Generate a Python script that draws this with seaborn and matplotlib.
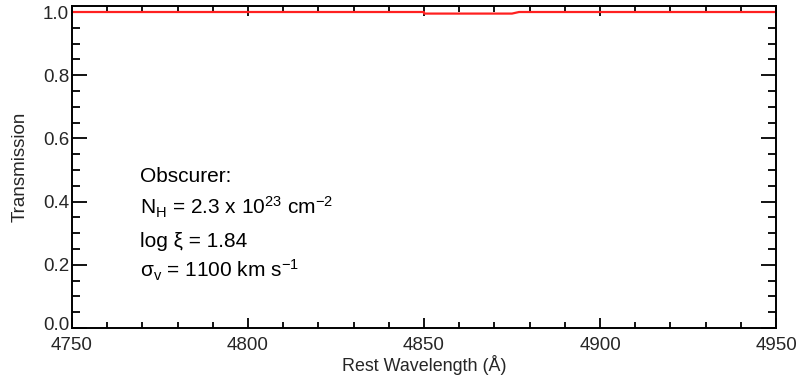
import matplotlib
matplotlib.use("Agg")
import matplotlib.pyplot as plt
import matplotlib.transforms as mtransforms
import seaborn as sns
import pandas as pd
from matplotlib.ticker import MultipleLocator

# Data
wavelength = [4750, 4850, 4850, 4875, 4877, 4950]
transmission = [1.0, 1.0, 0.995, 0.995, 1.0, 1.0]

x_ticks = [4750, 4800, 4850, 4900, 4950]
y_ticks = [0.0, 0.2, 0.4, 0.6, 0.8, 1.0]

annotation_lines = [
    "Obscurer:",
    r"N$_\mathregular{H}$ = 2.3 x 10$^\mathregular{23}$ cm$^\mathregular{-2}$",
    "log ξ = 1.84",
    r"σ$_\mathregular{v}$ = 1100 km s$^\mathregular{-1}$",
]

sns.set_theme(style="ticks")
plt.rcParams["font.family"] = ["Liberation Sans", "DejaVu Sans"]
plt.rcParams["mathtext.fontset"] = "custom"
plt.rcParams["mathtext.rm"] = "Liberation Sans"
plt.rcParams["mathtext.it"] = "Liberation Sans:italic"
plt.rcParams["mathtext.bf"] = "Liberation Sans:bold"

df = pd.DataFrame({"wavelength": wavelength, "transmission": transmission})

fig = plt.figure(figsize=(7.97, 3.78), dpi=100)
ax = fig.add_axes([72 / 797, 1 - 328 / 378, 704 / 797, 322 / 378])

sns.lineplot(data=df, x="wavelength", y="transmission", ax=ax, sort=False,
             estimator=None, color="#ff2020", linewidth=1.6)

ax.set_xlim(4750, 4950)
ax.set_ylim(0.0, 1.019)
ax.set_xticks(x_ticks)
ax.set_xticklabels([str(t) for t in x_ticks])
ax.set_yticks(y_ticks)
ax.set_yticklabels([f"{t:.1f}" for t in y_ticks])
ax.xaxis.set_minor_locator(MultipleLocator(10))
ax.yaxis.set_minor_locator(MultipleLocator(0.05))

ax.tick_params(which="both", direction="in", top=True, right=True,
               color="black", width=1.3)
ax.tick_params(axis="x", which="major", length=7.2, labelsize=13.5, pad=6.5)
ax.tick_params(axis="x", which="minor", length=4.3)
ax.tick_params(axis="y", which="major", length=10.5, labelsize=13.5, pad=2)
ax.tick_params(axis="y", which="minor", length=5.8)
for s in ax.spines.values():
    s.set_color("black")
    s.set_linewidth(1.4)

# lift the bottom y label slightly, as in the reference
lbl0 = ax.get_yticklabels()[0]
lbl0.set_transform(lbl0.get_transform() +
                   mtransforms.ScaledTranslation(0, 4 / 100, fig.dpi_scale_trans))

ax.set_xlabel("Rest Wavelength (Å)", fontsize=12.9, labelpad=1)
ax.set_ylabel("Transmission", fontsize=13.5, labelpad=10)

ys = [0.453, 0.351, 0.252, 0.158]
for txt, yy in zip(annotation_lines, ys):
    ax.text(0.0966, yy, txt, transform=ax.transAxes, fontsize=15,
            ha="left", va="baseline", color="black")

fig.savefig("out.png", dpi=100)
